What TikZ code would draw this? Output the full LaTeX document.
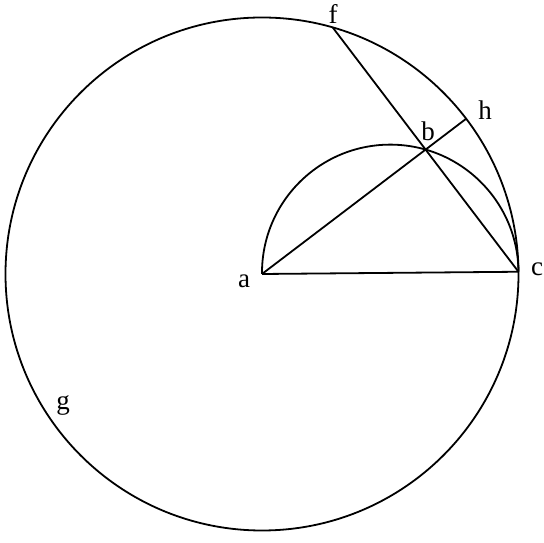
\documentclass[tikz,border=0pt]{standalone}
\usepackage{fontspec}
\setmainfont{Liberation Serif}
\usetikzlibrary{calc}
\begin{document}
\begin{tikzpicture}[x=1pt,y=1pt,line width=1.8pt,
  lbl/.style={font=\fontsize{27}{30}\selectfont, inner sep=0pt}]
\useasboundingbox (0,0) rectangle (544,543);
\def\R{256.5}
\coordinate (a) at (262,269);
\coordinate (c) at ($(a)+(0.5:\R)$);
\coordinate (m) at ($(a)!0.5!(c)$);
\coordinate (b) at ($(m)+(74:\R/2)$);
\coordinate (h) at ($(a)!\R pt!(b)$);
\coordinate (f) at ($(c)!2!(b)$);
% big circle
\draw (a) circle[radius=\R];
% semicircle
\draw (c) arc[start angle=0.5, end angle=180.5, radius=\R/2];
% lines
\draw (a) -- (c);
\draw (a) -- (h);
\draw (c) -- (f);
% labels
\node[lbl] (la) at (244,262) {a};
\node[lbl] (lc) at (537,274) {c};
\node[lbl] (lb) at (428,412) {b};
\node[lbl] (lh) at (485,433) {h};
\node[lbl] (lf) at (333,529) {f};
\node[lbl] (lg) at (63,138) {g};
\end{tikzpicture}
\end{document}
